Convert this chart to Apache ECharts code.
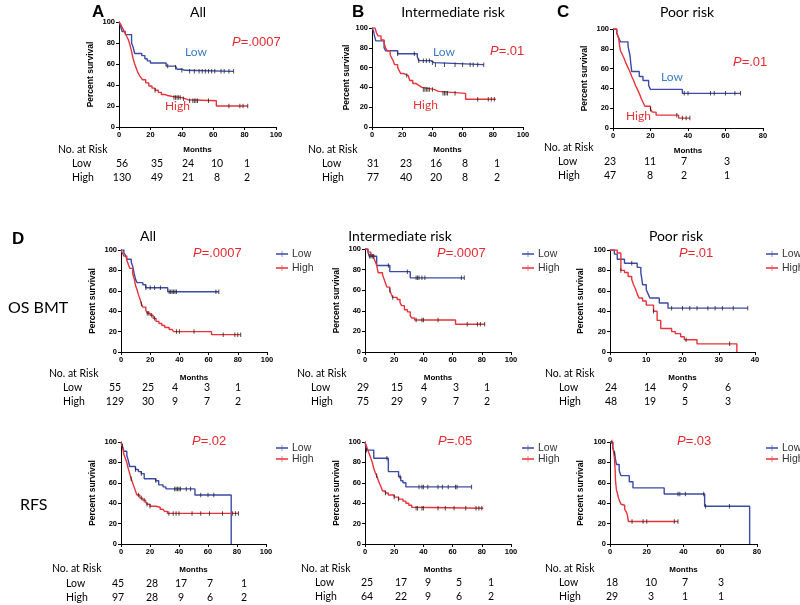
<!DOCTYPE html>
<html><head><meta charset="utf-8">
<script src="https://cdn.jsdelivr.net/npm/echarts@6/dist/echarts.min.js"></script>
<style>html,body{margin:0;padding:0;background:#fff}#c{width:800px;height:605px}</style>
</head><body><div id="c"></div><script>
// ---------- DATA ----------
// Kaplan-Meier step points [month, percent survival]
const A_LOW = [[0,100],[1,96],[2,91],[4,88],[8,80],[9,76],[10,70],[14.5,68],[16.5,65],[18,63],[20,61],[30,58],[36,57],[37,55],[40,54],[42,53],[73,53]];
const A_LOW_CENS = [31,36,40,45,48,51,53,55,57,59,61,65,67,70,73];
const A_HIGH = [[0,100],[1,98],[2,95],[3,92],[4,89],[5,86],[6,83],[7,78],[8,72],[9,65],[10,60],[11,56],[12,52],[13,49],[14,47],[15,45],[17,42],[19,39],[21,37],[23,35],[25,33],[27,31],[29,30],[31,29],[34,28],[40,27],[42,26],[44,25],[62,20],[82,20]];
const A_HIGH_CENS = [23,35,36,37,38,39,41,45,47,48,49,50,57,70,77,79,82];

const B_LOW = [[0,100],[1,97],[1.5,93],[2.5,87],[8,80],[9,77],[17,74],[30,71],[31,67],[39,65],[41,63],[74,63]];
const B_LOW_CENS = [17,28,31,34,36,38,40,42,48,55,60,65,67,70,74];
const B_HIGH = [[0,100],[2,98],[3,95],[4,92],[6,88],[8,85],[9,80],[10,77],[12,73],[13,70],[14,67],[15,63],[17,60],[18,57],[19,54],[21,52],[24,50],[25,47],[27,44],[29,42],[31,40],[33,38],[41,36],[44,34],[62,28],[82,28]];
const B_HIGH_CENS = [23,34,35,36,37,38,40,47,48,49,50,55,70,77,79,81];

const C_LOW = [[0,100],[2,96],[3,91],[4,87],[8,83],[8.5,78],[9,74],[9.5,65],[10,57],[14,52],[16,48],[19,43],[20,39],[37,35],[68,35]];
const C_LOW_CENS = [38,40,52,54,60,65,68];
const C_HIGH = [[0,100],[2,96],[3,91],[3.5,83],[4,78],[5,74],[6,70],[7,65],[8,61],[9,57],[10,52],[11,48],[12,43],[13,39],[14,35],[15,30],[16,26],[17,22],[20,19],[21,16],[23,13],[35,10],[41,10]];
const C_HIGH_CENS = [20,34,37,39,41];

const D11_LOW = [[0,100],[2,97],[3,95],[4,91],[7,88],[8,84],[9,77],[10,71],[11,68],[15,66],[17,63],[32,59],[67,59]];
const D11_LOW_CENS = [17,20,23,27,33,34,35,36,37,38,65,67];
const D11_HIGH = [[0,100],[1,97],[2,94],[4,90],[5,86],[6,82],[8,77],[9,72],[10,65],[11,61],[12,56],[13,52],[14,47],[15,44],[17,41],[18,38],[20,36],[22,33],[24,30],[26,28],[28,26],[30,24],[33,22],[35,21],[36,20],[62,17],[82,17]];
const D11_HIGH_CENS = [14,18,19,21,23,38,40,50,70,78,80,82];

const D12_LOW = [[0,100],[2,97],[3,93],[8,84],[17,78],[31,72],[68,72]];
const D12_LOW_CENS = [3,4,5,6,16,29,35,36,37,39,41,66,68];
const D12_HIGH = [[0,100],[2,97],[4,94],[6,91],[7,88],[8,84],[9,77],[12,75],[13,71],[14,67],[15,63],[17,60],[18,56],[19,53],[22,51],[24,48],[25,45],[27,41],[29,39],[31,35],[32,33],[34,31],[62,27],[82,27]];
const D12_HIGH_CENS = [17,19,35,39,40,50,70,77,79,82];

const D13_LOW = [[0,100],[1.2,96],[2,91],[4,87],[7.5,83],[8.5,78],[9,66],[10,61],[10.5,57],[11,53],[13.6,48],[16,43],[38,43]];
const D13_LOW_CENS = [6,17,20,22,24,27,29,31,34,38];
const D13_HIGH = [[0,100],[2,97],[3,80],[4,78],[5,74],[6,71],[6.5,66],[7,62],[7.5,57],[8,53],[9,50],[10,46],[12,40],[13,31],[14,23],[17,20],[18,18],[19.5,15],[20.5,12],[24,8],[35,0]];
const D13_HIGH_CENS = [3,12,21,33];

const D21_LOW = [[0,100],[1,96],[2,91],[4,87],[5,82],[6,76],[10,73],[12,71],[14,69],[16,64],[24,62],[26,58],[29,56],[31,54],[51,48],[76,0]];
const D21_LOW_CENS = [1,10,14,24,37,38,39,40,41,45,48,55,60,64];
const D21_HIGH = [[0,100],[1,95],[2,88],[3,84],[4,80],[5,74],[6,69],[7,64],[8,60],[9,56],[10,52],[11,48],[13,45],[15,43],[17,41],[18,39],[20,37],[24,36],[27,34],[29,33],[30,32],[32,30],[81,30]];
const D21_HIGH_CENS = [7,12,14,16,18,20,33,36,38,40,49,55,61,70,77,79,81];

const D22_LOW = [[0,100],[1,92],[6,84],[16,71],[23,66],[24.5,62],[26,60],[28,56],[73,56]];
const D22_LOW_CENS = [1,15,24,37,39,40,43,50,53,57,62,63,73];
const D22_HIGH = [[0,100],[1,96],[2,92],[3,88],[4,84],[5,80],[6,74],[7,70],[8,67],[9,63],[10,59],[11,56],[12,52],[14,50],[16,48],[20,46],[23,44],[26,42],[28,40],[30,38],[32,36],[33,35],[81,35]];
const D22_HIGH_CENS = [8,14,20,23,35,36,39,40,50,55,61,69,76,78,80];

const D23_LOW = [[0,100],[1.5,94],[2.5,89],[3,83],[3.5,78],[5,72],[6,67],[10.5,61],[12.5,55],[29.5,49],[51.5,37],[76,0]];
const D23_LOW_CENS = [1,2.5,37,38,41,51,52,65];
const D23_HIGH = [[0,100],[1.5,96],[2,90],[2.5,83],[2.8,72],[3,62],[3.5,53],[4,50],[4.5,46],[5,43],[6,39],[7,38],[8,34],[9,31],[9.5,28],[10,22],[37,22]];
const D23_HIGH_CENS = [12,18,20,35,37];

// numbers at risk
const A_RISK_LOW = [56,35,24,10,1],  A_RISK_HIGH = [130,49,21,8,2];
const B_RISK_LOW = [31,23,16,8,1],   B_RISK_HIGH = [77,40,20,8,2];
const C_RISK_LOW = [23,11,7,3],      C_RISK_HIGH = [47,8,2,1];
const D11_RISK_LOW = [55,25,4,3,1],  D11_RISK_HIGH = [129,30,9,7,2];
const D12_RISK_LOW = [29,15,4,3,1],  D12_RISK_HIGH = [75,29,9,7,2];
const D13_RISK_LOW = [24,14,9,6],    D13_RISK_HIGH = [48,19,5,3];
const D21_RISK_LOW = [45,28,17,7,1], D21_RISK_HIGH = [97,28,9,6,2];
const D22_RISK_LOW = [25,17,9,5,1],  D22_RISK_HIGH = [64,22,9,6,2];
const D23_RISK_LOW = [18,10,7,3],    D23_RISK_HIGH = [29,3,1,1];

const P_VALUES = ['.0007','.01','.01','.0007','.0007','.01','.02','.05','.03'];
const TITLES = ['All','Intermediate risk','Poor risk'];
const ROW_LABELS = ['OS BMT','RFS'];
const GROUPS = ['Low','High'];
const X_MAX = [100,100,80,100,100,40,100,100,80];
const X_INT = [20,20,20,20,20,10,20,20,20];

// ---------- LAYOUT ----------
const BLUE = '#3b4aa6', RED = '#e8333b', LOWTXT = '#3d7cc4', PRED = '#e8282f', CENS = '#222';
const panels = [
 {g:[119,22,157,105], low:A_LOW, lowC:A_LOW_CENS, high:A_HIGH, highC:A_HIGH_CENS, rl:A_RISK_LOW, rh:A_RISK_HIGH,
  nx:[122,157,188,217,247], ty:[150,164,178], hx:58, lx:72, p:[232,42], lab:{low:[185,52],high:[165,106]}, gapY:24, gapX:19},
 {g:[372,28,151,99], low:B_LOW, lowC:B_LOW_CENS, high:B_HIGH, highC:B_HIGH_CENS, rl:B_RISK_LOW, rh:B_RISK_HIGH,
  nx:[373,406,436,465,497], ty:[150,164,178], hx:308, lx:322, p:[490,51], lab:{low:[433,52],high:[413,105]}, gapY:21, gapX:19},
 {g:[613,29,150,99], low:C_LOW, lowC:C_LOW_CENS, high:C_HIGH, highC:C_HIGH_CENS, rl:C_RISK_LOW, rh:C_RISK_HIGH,
  nx:[610,650,684,727], ty:[148,162,176], hx:544, lx:558, p:[733,62], lab:{low:[661,77],high:[626,116]}, gapY:24, gapX:19},
 {g:[121,250,146,102], low:D11_LOW, lowC:D11_LOW_CENS, high:D11_HIGH, highC:D11_HIGH_CENS, rl:D11_RISK_LOW, rh:D11_RISK_HIGH,
  nx:[115,148,175,207,238], ty:[374,388,402], hx:49, lx:63, p:[193,253], leg:[276,248,2,12], gapY:24, gapX:22},
 {g:[365,249,146,103], low:D12_LOW, lowC:D12_LOW_CENS, high:D12_HIGH, highC:D12_HIGH_CENS, rl:D12_RISK_LOW, rh:D12_RISK_HIGH,
  nx:[363,397,424,456,487], ty:[374,388,402], hx:297, lx:311, p:[437,253], leg:[522,248,2,12], gapY:24, gapX:22},
 {g:[610,250,145,102], low:D13_LOW, lowC:D13_LOW_CENS, high:D13_HIGH, highC:D13_HIGH_CENS, rl:D13_RISK_LOW, rh:D13_RISK_HIGH,
  nx:[611,650,685,728], ty:[374,388,402], hx:545, lx:559, p:[679,253], leg:[766,248,2,12], gapY:25, gapX:22},
 {g:[121,442,145,102], low:D21_LOW, lowC:D21_LOW_CENS, high:D21_HIGH, highC:D21_HIGH_CENS, rl:D21_RISK_LOW, rh:D21_RISK_HIGH,
  nx:[118,152,181,210,244], ty:[569,584,598], hx:52, lx:66, p:[192,441], leg:[276,442.5,0,11], gapY:24, gapX:22},
 {g:[365,442,146,102], low:D22_LOW, lowC:D22_LOW_CENS, high:D22_HIGH, highC:D22_HIGH_CENS, rl:D22_RISK_LOW, rh:D22_RISK_HIGH,
  nx:[367,401,428,459,491], ty:[569,583,597], hx:301, lx:315, p:[438,441], leg:[522,442.5,0,11], gapY:24, gapX:22},
 {g:[610,442,147,102], low:D23_LOW, lowC:D23_LOW_CENS, high:D23_HIGH, highC:D23_HIGH_CENS, rl:D23_RISK_LOW, rh:D23_RISK_HIGH,
  nx:[612,651,685,721], ty:[569,583,597], hx:545, lx:559, p:[677,441], leg:[766,442.5,0,11], gapY:25, gapX:22}
];

function survAt(curve, t){
  let s = curve[0][1];
  for (const p of curve){ if (p[0] <= t) s = p[1]; }
  return s;
}

const AX_FONT = 'Liberation Sans';
const TXT_FONT = 'Lato';
const grid = [], xAxis = [], yAxis = [], series = [], legend = [], graphic = [];

function txt(text, x, y, font, fill, align, extra){
  const o = {type:'text', x:x, y:y, silent:true,
    style:Object.assign({text:text, font:font, fill:fill||'#000', align:align||'left', verticalAlign:'middle',
      textAlign:align||'left', textVerticalAlign:'middle'}, extra||{})};
  graphic.push(o);
}

panels.forEach((p,i)=>{
  grid.push({left:p.g[0], top:p.g[1], width:p.g[2], height:p.g[3], containLabel:false});
  xAxis.push({type:'value', gridIndex:i, min:0, max:X_MAX[i], interval:X_INT[i],
    name:'Months', nameLocation:'middle', nameGap:p.gapX,
    nameTextStyle:{fontFamily:AX_FONT, fontWeight:'bold', fontSize:8, color:'#000'},
    axisLine:{show:true, onZero:false, lineStyle:{color:'#000', width:1}},
    axisTick:{show:true, length:3, lineStyle:{color:'#000'}},
    axisLabel:{fontFamily:AX_FONT, fontWeight:'bold', fontSize:7.5, color:'#000', margin:4},
    splitLine:{show:false}});
  yAxis.push({type:'value', gridIndex:i, min:0, max:100, interval:20,
    name:'Percent survival', nameLocation:'middle', nameGap:p.gapY, nameRotate:90,
    nameTextStyle:{fontFamily:AX_FONT, fontWeight:'bold', fontSize:8.5, color:'#000'},
    axisLine:{show:true, onZero:false, lineStyle:{color:'#000', width:1}},
    axisTick:{show:true, length:3, lineStyle:{color:'#000'}},
    axisLabel:{fontFamily:AX_FONT, fontWeight:'bold', fontSize:7.5, color:'#000', margin:4},
    splitLine:{show:false}});
  [[p.low, p.lowC, GROUPS[0], BLUE],[p.high, p.highC, GROUPS[1], RED]].forEach(([curve, cens, name, col])=>{
    series.push({type:'line', name:name, xAxisIndex:i, yAxisIndex:i, step:'end', data:curve,
      showSymbol:false, symbol:'none', color:col, lineStyle:{color:col, width:1.4}, silent:true, z:2});
    series.push({type:'scatter', name:name+' censored', xAxisIndex:i, yAxisIndex:i,
      data:cens.map(t=>[t, survAt(curve,t)]), symbol:'rect', symbolSize:[1,4.5],
      itemStyle:{color:CENS}, silent:true, z:3});
  });
  // p-value
  txt('{i|P}=' + P_VALUES[i], p.p[0], p.p[1], '13px ' + AX_FONT, PRED, 'left',
    {rich:{i:{font:'italic 13px ' + AX_FONT, fill:PRED}}});
  // group labels (top row) or legend (D rows)
  if (p.lab){
    txt(GROUPS[0], p.lab.low[0], p.lab.low[1], '12px ' + TXT_FONT, LOWTXT);
    txt(GROUPS[1], p.lab.high[0], p.lab.high[1], '12px ' + TXT_FONT, RED);
  }
  if (p.leg){
    legend.push({data:GROUPS, orient:'vertical', left:p.leg[0], top:p.leg[1], itemGap:p.leg[2],
      itemWidth:12, itemHeight:6, padding:0, selectedMode:false, symbolKeepAspect:false,
      icon:'path://M0,4.4H24V5.6H0Z M11.4,2.5H12.6V7.5H11.4Z',
      textStyle:{fontFamily:AX_FONT, fontSize:10.5, color:'#333', lineHeight:p.leg[3], padding:[0,0,0,-1]}});
  }
  // risk table
  txt('No. at Risk', p.hx, p.ty[0], '10.5px ' + TXT_FONT, '#000');
  txt(GROUPS[0], p.lx, p.ty[1], '10.5px ' + TXT_FONT, '#000');
  txt(GROUPS[1], p.lx, p.ty[2], '10.5px ' + TXT_FONT, '#000');
  p.rl.forEach((v,k)=> txt(String(v), p.nx[k], p.ty[1], '10.5px ' + TXT_FONT, '#000', 'center'));
  p.rh.forEach((v,k)=> txt(String(v), p.nx[k], p.ty[2], '10.5px ' + TXT_FONT, '#000', 'center'));
});

// titles and panel letters
[[198,12],[453,12],[687,12]].forEach((c,k)=> txt(TITLES[k], c[0], c[1], '14px ' + TXT_FONT, '#000', 'center'));
[[148,236],[400,236],[676,236]].forEach((c,k)=> txt(TITLES[k], c[0], c[1], '14px ' + TXT_FONT, '#000', 'center'));
txt('A', 92, 12, 'bold 17px ' + AX_FONT, '#000');
txt('B', 352, 12, 'bold 17px ' + AX_FONT, '#000');
txt('C', 557, 12, 'bold 17px ' + AX_FONT, '#000');
txt('D', 12, 239, 'bold 17px ' + AX_FONT, '#000');
txt(ROW_LABELS[0], 8, 308, '16px ' + TXT_FONT, '#000');
txt(ROW_LABELS[1], 20, 505, '16px ' + TXT_FONT, '#000');

const chart = echarts.init(document.getElementById('c'), null, {renderer:'canvas'});
chart.setOption({backgroundColor:'#fff', animation:false, grid, xAxis, yAxis, series, legend, graphic});
</script></body></html>
